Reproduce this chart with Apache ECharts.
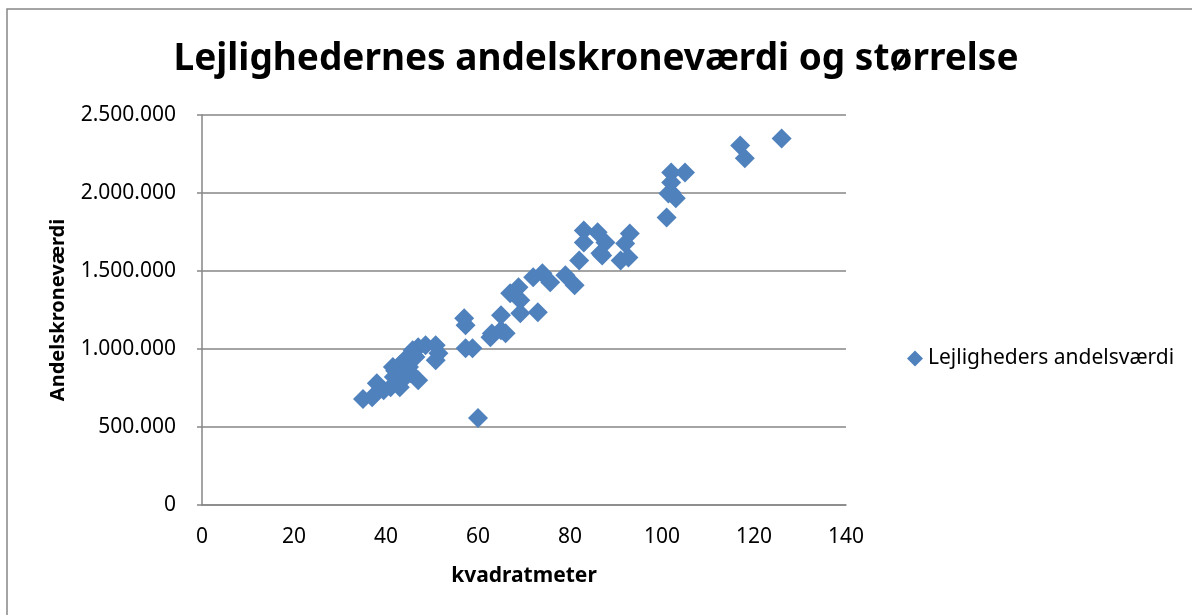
<!DOCTYPE html>
<html>
<head>
<meta charset="utf-8">
<script src="https://cdn.jsdelivr.net/npm/echarts@6/dist/echarts.min.js"></script>
<style>html,body{margin:0;padding:0;background:#fff}#c{width:1192px;height:615px}</style>
</head>
<body>
<div id="c"></div>
<script>
const titleText = 'Lejlighedernes andelskroneværdi og størrelse';
const seriesName = 'Lejligheders andelsværdi';
const xName = 'kvadratmeter';
const yName = 'Andelskroneværdi';
const areaM2 = [35,37,38,41,43,41.7,41.5,43,44,45.8,47,47,45,46.4,45.4,48.6,50.8,51.4,50.8,39.5,42,44.5,
  57,57.3,57.3,58.8,60,62.7,63,65,66,65,67,68.8,69.2,69.2,73,72,74,75.7,79,81,82,83,83,86,87.7,87,
  86.6,91,92.7,93,92,101,102,102,102,103,105,117,118,126,101.4,43.5,46];
const value = [680000,690000,780000,755000,755000,820000,885000,896000,928000,992000,1011000,800000,885000,948000,845000,1024000,1024000,973000,928000,736000,860000,870000,
  1197000,1152000,1005000,1005000,557000,1075000,1100000,1120000,1101000,1216000,1357000,1396000,1312000,1229000,1235000,1460000,1485000,1428000,1472000,1408000,1568000,1760000,1683000,1748000,1683000,1600000,
  1613000,1568000,1587000,1741000,1677000,1843000,2132000,2068000,2004000,1966000,2132000,2305000,2222000,2349000,1997000,800000,960000];
const xTicks = {min:0, max:140, interval:20};
const yTicks = {min:0, max:2500000, interval:500000};

const pts = areaM2.map((x,i)=>[x, value[i]]);
const fmt = v => String(v).replace(/\B(?=(\d{3})+(?!\d))/g, '.');
const F = '"Noto Sans", sans-serif';
const chart = echarts.init(document.getElementById('c'));
chart.setOption({
  animation:false,
  backgroundColor:'#fff',
  graphic:[{type:'rect', shape:{x:7,y:9,width:1200,height:620}, style:{fill:'none', stroke:'#868686', lineWidth:1.5}}],
  title:{text:titleText, left:'center', top:36, textStyle:{fontFamily:F, fontSize:37, fontWeight:'bold', color:'#000'}},
  legend:{data:[{name:seriesName, icon:'diamond'}], left:902, top:343, itemWidth:16, itemHeight:16, itemGap:4,
    textStyle:{fontFamily:F, fontSize:21, color:'#000'}},
  grid:{left:202, right:1192-846, top:115, bottom:615-505, containLabel:false},
  xAxis:{type:'value', min:xTicks.min, max:xTicks.max, interval:xTicks.interval,
    name:xName, nameLocation:'middle', nameGap:61, nameTextStyle:{fontFamily:F, fontSize:21, fontWeight:'bold', color:'#000'},
    axisLine:{show:true, onZero:false, lineStyle:{color:'#868686', width:1.5}}, axisTick:{show:false},
    splitLine:{show:false}, axisLabel:{margin:22, fontFamily:F, fontSize:21, color:'#000'}},
  yAxis:{type:'value', min:yTicks.min, max:yTicks.max, interval:yTicks.interval,
    name:yName, nameLocation:'middle', nameGap:134, nameRotate:90, nameTextStyle:{fontFamily:F, fontSize:20, fontWeight:'bold', color:'#000'},
    axisLine:{show:true, lineStyle:{color:'#868686', width:1.5}}, axisTick:{show:true, length:5, lineStyle:{color:'#868686', width:1.5}},
    splitLine:{show:true, lineStyle:{color:'#868686', width:1.5}},
    axisLabel:{margin:26, fontFamily:F, fontSize:21, color:'#000', formatter:fmt}},
  series:[{name:seriesName, type:'scatter', symbol:'diamond', symbolSize:20, data:pts,
    itemStyle:{color:'#4f81bd', opacity:1}}]
});
</script>
</body>
</html>
